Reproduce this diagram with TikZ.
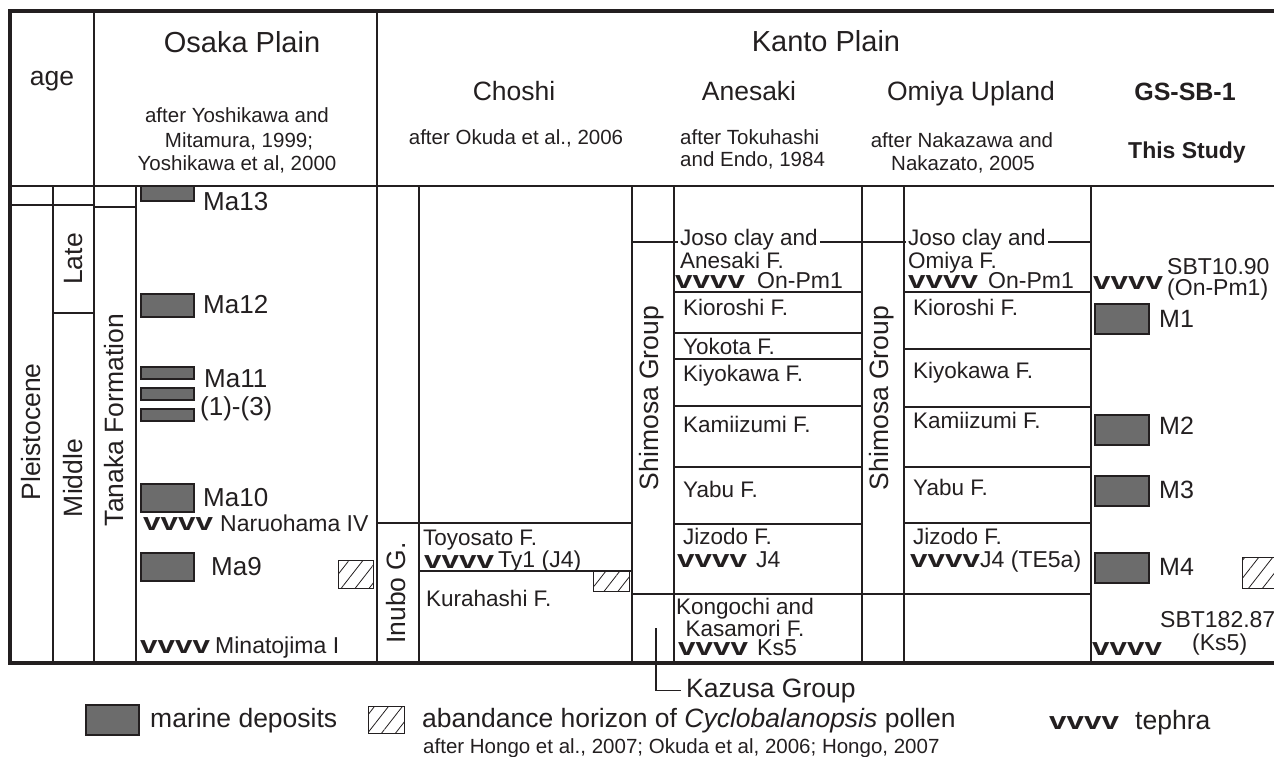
\documentclass[tikz,border=0pt]{standalone}
\usepackage{fontspec}
\setmainfont{Liberation Sans}
\usepackage{graphicx}
\usetikzlibrary{patterns.meta}
\definecolor{figTrait}{RGB}{35,31,32}
\definecolor{figMarin}{RGB}{108,108,108}
\newcommand{\tephraV}{\scalebox{1.28}[1]{\fontsize{24.5}{24.5}\selectfont\bfseries vvvv}}

\begin{document}
\begin{tikzpicture}[
  x=1pt, y=-1pt, color=figTrait,
  trait/.style={line width=1.2pt},
  cadre/.style={line width=3.3pt},
  region/.style={font=\fontsize{29}{29}\selectfont, anchor=base, inner sep=0pt},
  lieu/.style={font=\fontsize{26.5}{26.5}\selectfont, anchor=base, inner sep=0pt},
  biblio/.style={font=\fontsize{20.5}{20.5}\selectfont, anchor=base, inner sep=0pt},
  fm/.style={font=\fontsize{22.5}{22.5}\selectfont, anchor=base west, inner sep=0pt},
  tph/.style={font=\fontsize{23}{23}\selectfont, anchor=base west, inner sep=0pt},
  vv/.style={anchor=base west, inner sep=0pt},
  vert/.style={font=\fontsize{26.5}{26.5}\selectfont, rotate=90, inner sep=0pt},
  ma/.style={font=\fontsize{26}{26}\selectfont, anchor=base west, inner sep=0pt},
  leg/.style={font=\fontsize{26.5}{26.5}\selectfont, anchor=base west, inner sep=0pt},
  marin/.style={draw, line width=1.2pt, fill=figMarin},
  pollen/.style={draw, line width=1pt, pattern={Lines[angle=52,distance=11pt,line width=0.8pt]},
                 pattern color=figTrait}
]
\useasboundingbox (0,0) rectangle (1274,757);

% grille
\draw[cadre] (1280,11) -- (10,11) -- (10,663) -- (1280,663);
\draw[trait] (10,186) -- (1280,186)
  (94,11) -- (94,663) (377,11) -- (377,663)
  (53,186) -- (53,663) (136,186) -- (136,663)
  (10,205) -- (94,205) (94,207) -- (136,207) (53,313) -- (94,313)
  (419,186) -- (419,663) (377,523) -- (632,523) (419,571) -- (632,571)
  (632,186) -- (632,663) (674,186) -- (674,663)
  (862,186) -- (862,663) (904,186) -- (904,663) (1091,186) -- (1091,663)
  (632,242) -- (1091,242) (632,594) -- (1091,594)
  (674,292) -- (862,292) (674,333) -- (862,333) (674,359) -- (862,359)
  (674,406) -- (862,406) (674,467) -- (862,467) (674,524) -- (862,524)
  (904,292) -- (1091,292) (904,349) -- (1091,349) (904,407) -- (1091,407)
  (904,467) -- (1091,467) (904,523) -- (1091,523);

% en-tete
\node[lieu] (age) at (52,86) {age};
\node[region] (osaka) at (242,53) {Osaka Plain};
\node[biblio] (osakaRef1) at (237,123) {after Yoshikawa and};
\node[biblio] (osakaRef2) at (239,148) {Mitamura, 1999;};
\node[biblio] (osakaRef3) at (237,170) {Yoshikawa et al, 2000};
\node[region] (kanto) at (826,52) {Kanto Plain};
\node[lieu] (choshi) at (514,101) {Choshi};
\node[biblio] (choshiRef) at (516,144) {after Okuda et al., 2006};
\node[lieu] (anesaki) at (749,101) {Anesaki};
\node[biblio, anchor=base west] (anesakiRef1) at (680,144) {after Tokuhashi};
\node[biblio, anchor=base west] (anesakiRef2) at (680,167) {and Endo, 1984};
\node[lieu] (omiya) at (971,101) {Omiya Upland};
\node[biblio] (omiyaRef1) at (962,147) {after Nakazawa and};
\node[biblio] (omiyaRef2) at (963,170) {Nakazato, 2005};
\node[lieu, font=\fontsize{25}{25}\selectfont\bfseries] (gs) at (1185,101) {GS-SB-1};
\node[lieu, font=\fontsize{23}{23}\selectfont\bfseries] (study) at (1187,158) {This Study};

% colonnes d'age
\node[vert] (pleisto) at (31,432) {Pleistocene};
\node[vert] (late) at (74,259) {Late};
\node[vert] (middle) at (73,478) {Middle};
\node[vert] (tanaka) at (114,420) {Tanaka Formation};

% Osaka
\draw[marin] (141,186) rectangle (194,201);
\draw[marin] (141,294) rectangle (194,317);
\draw[marin] (141,367) rectangle (194,379);
\draw[marin] (141,388) rectangle (194,400);
\draw[marin] (141,409) rectangle (194,421);
\draw[marin] (141,484) rectangle (194,512);
\draw[marin] (141,553) rectangle (194,581);
\draw[pollen] (338,560) rectangle (373,588);
\node[ma] (ma13) at (203,210) {Ma13};
\node[ma] (ma12) at (203,313) {Ma12};
\node[ma] (ma11) at (204,387) {Ma11};
\node[ma] (ma11b) at (200,415) {(1)-(3)};
\node[ma] (ma10) at (203,506) {Ma10};
\node[vv] (vNaru) at (143,530) {\tephraV};
\node[tph] (naru) at (220,531) {Naruohama IV};
\node[ma] (ma9) at (211,575) {Ma9};
\node[vv] (vMina) at (140,653) {\tephraV};
\node[tph] (mina) at (215,653) {Minatojima I};

% Choshi
\node[vert] (inubo) at (396,593) {Inubo G.};
\draw[pollen] (593,571) rectangle (629,591);
\node[fm] (toyo) at (423,545) {Toyosato F.};
\node[vv] (vTy) at (424,568) {\tephraV};
\node[tph] (ty1) at (498,567) {Ty1 (J4)};
\node[fm] (kura) at (426,606) {Kurahashi F.};

% Anesaki
\node[vert] (shimoA) at (652,398) {Shimosa Group};
\node[fm, fill=white, inner xsep=2pt] (josoA) at (678,245) {Joso clay and};
\node[fm] (anesF) at (680,268) {Anesaki F.};
\node[vv] (vOnA) at (675,288) {\tephraV};
\node[tph] (onA) at (757,288) {On-Pm1};
\node[fm] (kioA) at (683,315) {Kioroshi F.};
\node[fm] (yoko) at (683,354) {Yokota F.};
\node[fm] (kiyoA) at (683,381) {Kiyokawa F.};
\node[fm] (kamiA) at (683,432) {Kamiizumi F.};
\node[fm] (yabuA) at (683,497) {Yabu F.};
\node[fm] (jizoA) at (683,544) {Jizodo F.};
\node[vv] (vJ4A) at (677,567) {\tephraV};
\node[tph] (j4A) at (756,567) {J4};
\node[fm, anchor=base] (kongo) at (745,614) {Kongochi and};
\node[fm, anchor=base] (kasa) at (745,636) {Kasamori F.};
\node[vv] (vKs) at (678,655) {\tephraV};
\node[tph] (ks5) at (757,655) {Ks5};

% Omiya
\node[vert] (shimoO) at (882,398) {Shimosa Group};
\node[fm, fill=white, inner xsep=2pt] (josoO) at (906,245) {Joso clay and};
\node[fm] (omiyaF) at (908,268) {Omiya F.};
\node[vv] (vOnO) at (908,288) {\tephraV};
\node[tph] (onO) at (988,288) {On-Pm1};
\node[fm] (kioO) at (913,315) {Kioroshi F.};
\node[fm] (kiyoO) at (913,378) {Kiyokawa F.};
\node[fm] (kamiO) at (913,428) {Kamiizumi F.};
\node[fm] (yabuO) at (913,495) {Yabu F.};
\node[fm] (jizoO) at (913,544) {Jizodo F.};
\node[vv] (vJ4O) at (910,567) {\tephraV};
\node[tph] (j4O) at (980,567) {J4 (TE5a)};

% GS-SB-1
\node[vv] (vSbt1) at (1093,289) {\tephraV};
\node[tph] (sbt1) at (1167,274) {SBT10.90};
\node[tph] (sbt1b) at (1167,295) {(On-Pm1)};
\draw[marin] (1095,304) rectangle (1149,334);
\draw[marin] (1095,415) rectangle (1149,445);
\draw[marin] (1095,476) rectangle (1149,506);
\draw[marin] (1095,553) rectangle (1149,583);
\draw[pollen] (1242,557) rectangle (1290,588);
\node[ma, font=\fontsize{25}{25}\selectfont] (m1) at (1159,327) {M1};
\node[ma, font=\fontsize{25}{25}\selectfont] (m2) at (1159,434) {M2};
\node[ma, font=\fontsize{25}{25}\selectfont] (m3) at (1159,498) {M3};
\node[ma, font=\fontsize{25}{25}\selectfont] (m4) at (1159,575) {M4};
\node[tph] (sbt2) at (1160,627) {SBT182.87};
\node[tph] (sbt2b) at (1192,650) {(Ks5)};
\node[vv] (vSbt2) at (1092,655) {\tephraV};

% Kazusa et legende
\coordinate (kazusaPied) at (656,628);
\node[leg, inner xsep=5pt] (kazusa) at (681,697) {Kazusa Group};
\draw[trait] (kazusaPied) |- (kazusa.west);
\draw[marin] (86,705) rectangle (139,735);
\node[leg] (legMarin) at (150,727) {marine deposits};
\draw[pollen] (368,706) rectangle (404,733);
\node[leg] (legPollen) at (422,727) {abandance horizon of \textit{Cyclobalanopsis} pollen};
\node[biblio, anchor=base west] (legRef) at (423,753) {after Hongo et al., 2007; Okuda et al, 2006; Hongo, 2007};
\node[vv] (vLeg) at (1049,729) {\tephraV};
\node[leg] (legTeph) at (1135,729) {tephra};
\end{tikzpicture}
\end{document}
